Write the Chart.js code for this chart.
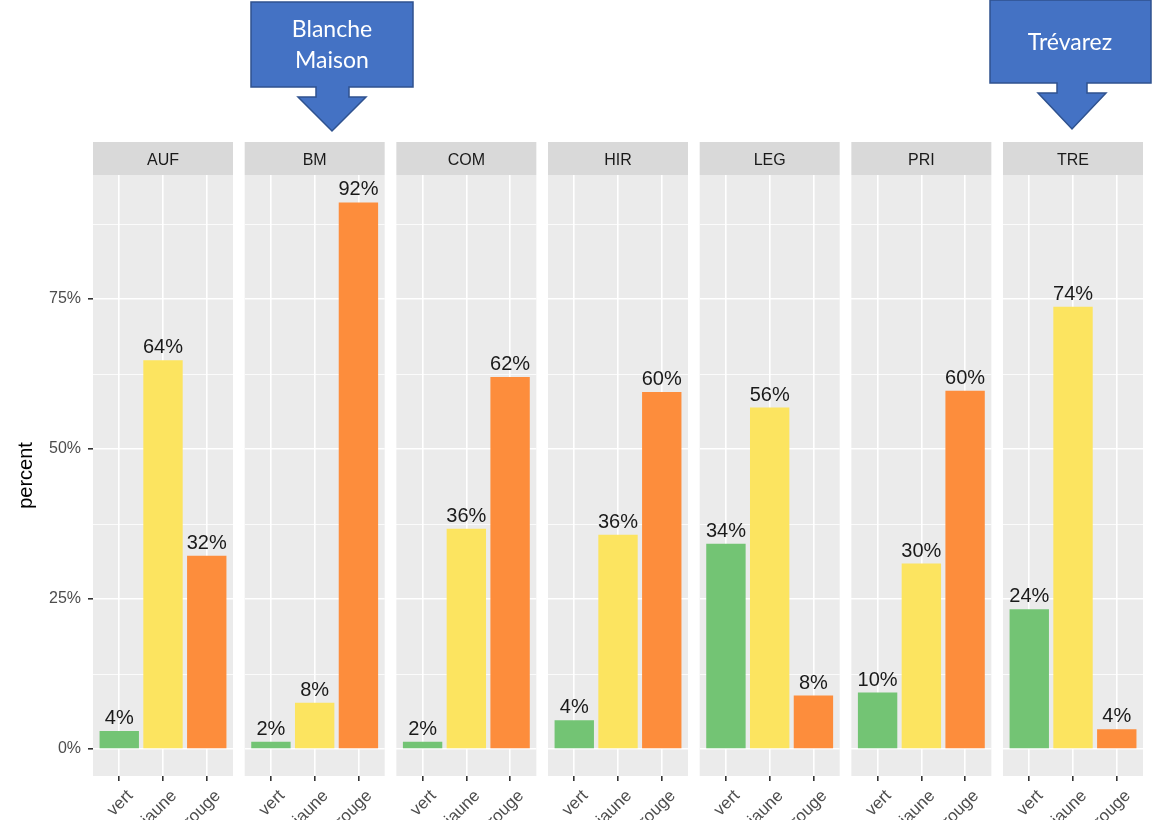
<!DOCTYPE html>
<html>
<head>
<meta charset="utf-8">
<script src="https://cdn.jsdelivr.net/npm/chart.js"></script>
<style>
  html, body { margin: 0; padding: 0; background: #fff; }
  #wrap { position: relative; width: 1153px; height: 820px; overflow: hidden; }
  #wrap canvas { position: absolute; left: 0; top: 0; }
  #callouts { position: absolute; left: 0; top: 0; }
</style>
</head>
<body>
<div id="wrap">
  <svg id="callouts" width="1153" height="140">
    <polygon points="251,2 413,2 413,87 349,87 349,97 366,97 332,131 298,97 316,97 316,87 251,87"
             fill="#4472c4" stroke="#2f528f" stroke-width="1.5"/>
    <text x="332" y="37" text-anchor="middle" fill="#fff" font-family="Lato" font-size="23">Blanche</text>
    <text x="332" y="68" text-anchor="middle" fill="#fff" font-family="Lato" font-size="23">Maison</text>
    <polygon points="990,0 1151,0 1151,83 1087,83 1087,93 1106,93 1072,129 1038,93 1057,93 1057,83 990,83"
             fill="#4472c4" stroke="#2f528f" stroke-width="1.5"/>
    <text x="1070" y="50" text-anchor="middle" fill="#fff" font-family="Lato" font-size="23">Trévarez</text>
  </svg>
</div>
<script>
// facets and categories
const sites = ['AUF', 'BM', 'COM', 'HIR', 'LEG', 'PRI', 'TRE'];
const levels = ['vert', 'jaune', 'rouge'];

// bar heights in percent
const vert = [3.0, 1.2, 1.2, 4.8, 34.2, 9.4, 23.3];
const jaune = [64.8, 7.7, 36.7, 35.7, 56.9, 30.9, 73.7];
const rouge = [32.2, 91.1, 62.0, 59.5, 8.9, 59.7, 3.3];

// the labels printed above the bars
const vertLabels = ['4%', '2%', '2%', '4%', '34%', '10%', '24%'];
const jauneLabels = ['64%', '8%', '36%', '36%', '56%', '30%', '74%'];
const rougeLabels = ['32%', '92%', '62%', '60%', '8%', '60%', '4%'];

const yTicks = [0, 12.5, 25, 37.5, 50, 62.5, 75, 87.5];

const W = 1153, H = 820;
const panelTop = 175, panelBottom = 776;
const firstLeft = 93, panelStep = 151.67, panelWidth = 140;
const colors = ['#73c474', '#fce460', '#fd8d3c'];

// panel background + facet strip
const panelPlugin = {
  id: 'panel',
  beforeDraw(chart, args, opts) {
    const a = chart.chartArea, c = chart.ctx;
    c.save();
    c.fillStyle = '#ebebeb';
    c.fillRect(a.left, a.top, a.right - a.left, a.bottom - a.top);
    c.fillStyle = '#d9d9d9';
    c.fillRect(a.left, a.top - 33, a.right - a.left, 33);
    c.fillStyle = '#1a1a1a';
    c.font = '16px "Liberation Sans", Arial, sans-serif';
    c.textAlign = 'center';
    c.textBaseline = 'middle';
    c.fillText(opts.title, (a.left + a.right) / 2, a.top - 14);
    c.restore();
  }
};

// value labels above bars
const labelPlugin = {
  id: 'barLabels',
  afterDatasetsDraw(chart, args, opts) {
    const c = chart.ctx;
    const meta = chart.getDatasetMeta(0);
    c.save();
    c.fillStyle = '#1a1a1a';
    c.font = '20px "Liberation Sans", Arial, sans-serif';
    c.textAlign = 'center';
    c.textBaseline = 'alphabetic';
    meta.data.forEach((bar, i) => {
      c.fillText(opts.labels[i], bar.x, bar.y - 7);
    });
    c.restore();
  }
};

const wrap = document.getElementById('wrap');

sites.forEach((site, p) => {
  const canvas = document.createElement('canvas');
  canvas.width = W;
  canvas.height = H;
  canvas.style.width = W + 'px';
  canvas.style.height = H + 'px';
  wrap.insertBefore(canvas, document.getElementById('callouts'));

  const left = firstLeft + p * panelStep;
  const right = left + panelWidth;
  const first = p === 0;

  new Chart(canvas.getContext('2d'), {
    type: 'bar',
    data: {
      datasets: [{
        data: [
          { x: 0, y: vert[p] },
          { x: 1, y: jaune[p] },
          { x: 2, y: rouge[p] }
        ],
        backgroundColor: colors,
        borderWidth: 0,
        categoryPercentage: 1,
        barPercentage: 0.9
      }]
    },
    options: {
      responsive: false,
      animation: false,
      layout: { padding: { top: panelTop, right: W - right, bottom: 0, left: 0 } },
      plugins: {
        legend: { display: false },
        tooltip: { enabled: false },
        panel: { title: site },
        barLabels: {
          labels: [vertLabels[p], jauneLabels[p], rougeLabels[p]]
        }
      },
      scales: {
        x: {
          type: 'linear',
          min: -0.6,
          max: 2.6,
          offset: false,
          afterBuildTicks: (scale) => { scale.ticks = [0, 1, 2].map(v => ({ value: v })); },
          afterFit: (scale) => { scale.height = H - panelBottom; },
          grid: { offset: false, color: '#ffffff', lineWidth: 1.6, tickColor: '#333333', tickLength: 5 },
          border: { display: false },
          ticks: {
            autoSkip: false,
            minRotation: 45,
            maxRotation: 45,
            padding: 5,
            labelOffset: 11,
            color: '#4d4d4d',
            font: { family: '"Liberation Sans", Arial, sans-serif', size: 17 },
            callback: (v) => levels[v]
          }
        },
        y: {
          min: -4.5,
          max: 95.67,
          afterBuildTicks: (scale) => { scale.ticks = yTicks.map(v => ({ value: v })); },
          afterFit: (scale) => { scale.width = left; },
          grid: {
            color: '#ffffff',
            lineWidth: (ctx) => (ctx.tick && ctx.tick.value % 25 === 0 ? 1.6 : 0.8),
            drawTicks: first,
            tickLength: 5,
            tickColor: (ctx) => (ctx.tick && ctx.tick.value % 25 === 0 ? '#333333' : 'rgba(0,0,0,0)')
          },
          border: { display: false },
          title: {
            display: first,
            text: 'percent',
            color: '#000000',
            padding: { top: 14, bottom: 0 },
            font: { family: '"Liberation Sans", Arial, sans-serif', size: 20 }
          },
          ticks: {
            display: first,
            padding: 7,
            color: '#4d4d4d',
            font: { family: '"Liberation Sans", Arial, sans-serif', size: 16 },
            callback: (v) => (v % 25 === 0 ? v + '%' : '')
          }
        }
      }
    },
    plugins: [panelPlugin, labelPlugin]
  });
});
</script>
</body>
</html>
